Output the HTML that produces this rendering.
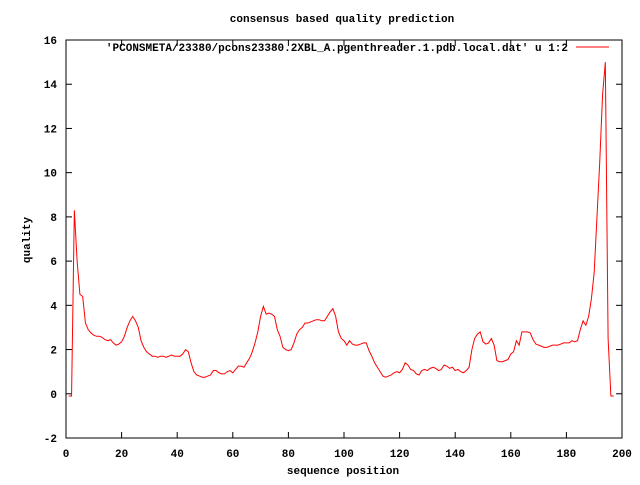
<!DOCTYPE html>
<html><head><meta charset="utf-8"><style>
body{margin:0;background:#fff}
svg text{font-family:"Liberation Mono",monospace;font-size:11px;font-weight:bold;fill:#000}
</style></head><body>
<svg id="chart" width="640" height="480" xmlns="http://www.w3.org/2000/svg">
<rect width="640" height="480" fill="#fff"/>
<g id="axes"></g>
<text x="342" y="22" text-anchor="middle">consensus based quality prediction</text>
<text x="343" y="474" text-anchor="middle">sequence position</text>
<text x="30" y="240" text-anchor="middle" transform="rotate(-90 30 240)">quality</text>
<text x="568" y="51" text-anchor="end">'PCONSMETA/23380/pcons23380.2XBL_A.pgenthreader.1.pdb.local.dat' u 1:2</text>
<line x1="576" y1="47" x2="609" y2="47" stroke="#f00" stroke-width="1"/>
<polyline id="series" fill="none" stroke="#f00" stroke-width="1"/>
</svg>
<script>
const xTicks=[0,20,40,60,80,100,120,140,160,180,200];
const yTicks=[-2,0,2,4,6,8,10,12,14,16];
const quality=[-0.1,-0.1,8.3,6,4.5,4.4,3.2,2.9,2.75,2.65,2.6,2.6,2.55,2.45,2.4,2.45,2.3,2.2,2.25,2.35,2.6,3.0,3.3,3.5,3.3,3.0,2.4,2.1,1.9,1.8,1.7,1.7,1.65,1.7,1.7,1.65,1.7,1.75,1.7,1.7,1.7,1.8,2.0,1.9,1.4,1.0,0.85,0.8,0.75,0.75,0.8,0.85,1.05,1.05,0.95,0.9,0.9,1.0,1.05,0.95,1.1,1.25,1.25,1.2,1.4,1.6,1.9,2.3,2.8,3.5,3.95,3.6,3.65,3.6,3.5,2.9,2.6,2.1,2.0,1.95,2.0,2.3,2.7,2.9,3.0,3.2,3.2,3.25,3.3,3.35,3.35,3.3,3.3,3.5,3.7,3.85,3.5,2.8,2.5,2.4,2.2,2.4,2.25,2.2,2.2,2.25,2.3,2.3,1.95,1.7,1.4,1.2,1.0,0.8,0.75,0.8,0.85,0.95,1.0,0.95,1.1,1.4,1.3,1.1,1.05,0.9,0.85,1.05,1.1,1.05,1.15,1.2,1.15,1.05,1.1,1.3,1.25,1.15,1.2,1.05,1.1,1.0,0.95,1.05,1.2,2.0,2.5,2.7,2.8,2.35,2.25,2.3,2.5,2.2,1.5,1.45,1.45,1.5,1.55,1.8,1.9,2.4,2.2,2.8,2.8,2.8,2.75,2.45,2.25,2.2,2.15,2.1,2.1,2.15,2.2,2.2,2.2,2.25,2.3,2.3,2.3,2.4,2.35,2.4,2.9,3.3,3.1,3.5,4.3,5.5,8.0,10.5,13.5,15.0,2.5,-0.1,-0.1];
const X0=66,X1=622,Y0=438,Y1=40;
const sx=v=>X0+(v-0)/200*(X1-X0);
const sy=v=>Y0-(v+2)/18*(Y0-Y1);
const NS="http://www.w3.org/2000/svg";
const ax=document.getElementById('axes');
function mk(t,a){const e=document.createElementNS(NS,t);for(const k in a)e.setAttribute(k,a[k]);return e;}
const frame=mk('rect',{x:X0,y:Y1,width:X1-X0,height:Y0-Y1,fill:'none',stroke:'#000','stroke-width':1});


ax.appendChild(frame);
xTicks.forEach(t=>{const x=sx(t);
 ax.appendChild(mk('line',{x1:x,y1:Y0,x2:x,y2:Y0-6,stroke:'#000'}));
 ax.appendChild(mk('line',{x1:x,y1:Y1,x2:x,y2:Y1+6,stroke:'#000'}));
 const tx=mk('text',{x:x,y:Y0+19,'text-anchor':'middle'});tx.textContent=t;
 
 
 ax.appendChild(tx);});
yTicks.forEach(t=>{const y=sy(t);
 ax.appendChild(mk('line',{x1:X0,y1:y,x2:X0+6,y2:y,stroke:'#000'}));
 ax.appendChild(mk('line',{x1:X1,y1:y,x2:X1-6,y2:y,stroke:'#000'}));
 const tx=mk('text',{x:X0-9,y:y+4,'text-anchor':'end'});tx.textContent=t;
 
 
 ax.appendChild(tx);});
document.getElementById('series').setAttribute('points',quality.map((v,i)=>sx(i+1)+','+sy(v)).join(' '));
</script>
</body></html>
